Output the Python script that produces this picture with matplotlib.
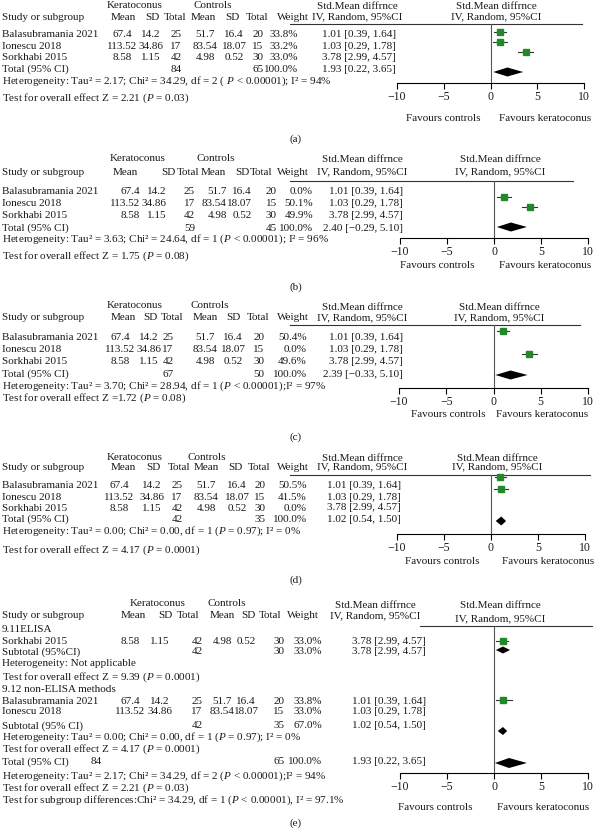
import matplotlib
matplotlib.use('Agg')
import matplotlib.pyplot as plt

plt.rcParams['font.family'] = ['Liberation Serif', 'DejaVu Serif']
plt.rcParams['mathtext.fontset'] = 'custom'
plt.rcParams['mathtext.rm'] = 'Liberation Serif'
plt.rcParams['mathtext.it'] = 'Liberation Serif:italic'

# ---- data ----
studies = ["Balasubramania 2021", "Ionescu 2018", "Sorkhabi 2015"]
kc_mean = ["67.4", "113.52", "8.58"]
kc_sd = ["14.2", "34.86", "1.15"]
kc_n = ["25", "17", "42"]
ct_mean = ["51.7", "83.54", "4.98"]
ct_sd = ["16.4", "18.07", "0.52"]
ct_n = ["20", "15", "30"]
smd_text = ["1.01 [0.39, 1.64]", "1.03 [0.29, 1.78]", "3.78 [2.99, 4.57]"]
smd = [1.01, 1.03, 3.78]
smd_lo = [0.39, 0.29, 2.99]
smd_hi = [1.64, 1.78, 4.57]

# sensitivity panels (a)-(d)
weights = [["33.8%", "33.2%", "33.0%"],
           ["0.0%", "50.1%", "49.9%"],
           ["50.4%", "0.0%", "49.6%"],
           ["50.5%", "41.5%", "0.0%"]]
total_kc = ["84", "59", "67", "42"]
total_ct = ["65", "45", "50", "35"]
total_smd = ["1.93 [0.22, 3.65]", "2.40 [\u22120.29, 5.10]",
             "2.39 [\u22120.33, 5.10]", "1.02 [0.54, 1.50]"]
het_text = [
    "Heterogeneity: Tau\u00b2 = 2.17; Chi\u00b2 = 34.29, df = 2 ( $P$ < 0.00001); I\u00b2 = 94%",
    "Heterogeneity: Tau\u00b2 = 3.63; Chi\u00b2 = 24.64, df = 1 ($P$ < 0.00001); I\u00b2 = 96%",
    "Heterogeneity: Tau\u00b2 = 3.70; Chi\u00b2 = 28.94, df = 1 ($P$ < 0.00001);I\u00b2 = 97%",
    "Heterogeneity: Tau\u00b2 = 0.00; Chi\u00b2 = 0.00, df = 1 ($P$ = 0.97); I\u00b2 = 0%"]
test_text = ["Test for overall effect Z = 2.21 ($P$ = 0.03)",
             "Test for overall effect Z = 1.75 ($P$ = 0.08)",
             "Test for overall effect Z =1.72 ($P$ = 0.08)",
             "Test for overall effect Z = 4.17 ($P$ = 0.0001)"]
shown = [[True, True, True], [False, True, True],
         [True, False, True], [True, True, False]]
# pooled diamonds as drawn
pool_est = [1.8, 1.8, 1.8, 1.1]
pool_lo = [0.3, 0.3, 0.2, 0.5]
pool_hi = [3.5, 3.5, 3.6, 1.6]

# subgroup panel (e), marks as drawn
e_pt_est = [0.95, 0.95]
e_pt_lo = [0.2, 0.2]
e_pt_hi = [1.5, 1.9]
e_dia_est = [0.95, 0.95, 1.6]
e_dia_lo = [0.2, 0.4, 0.1]
e_dia_hi = [1.7, 1.4, 3.5]

ticks = [-10, -5, 0, 5, 10]
tick_labels = ["\u221210", "\u22125", "0", "5", "10"]

# ---- drawing ----
W, H = 596, 834
FS = 8
GREEN = '#23882a'
INK = '#1a1a1a'

fig = plt.figure(figsize=(W / 100, H / 100), dpi=100)
bg = fig.add_axes([0, 0, 1, 1])
bg.set_xlim(0, W)
bg.set_ylim(H, 0)
bg.axis('off')


def txt(x, y, s, ha='center', fs=FS):
    bg.text(x, y, s, ha=ha, va='center', fontsize=fs, color=INK)


def forest_axes(x_m10, x_p10, y_top, y_axis):
    ax = fig.add_axes([x_m10 / W, 1 - y_axis / H,
                       (x_p10 - x_m10) / W, (y_axis - y_top) / H])
    ax.set_xlim(-10, 10)
    ax.set_ylim(y_axis, y_top)
    ax.patch.set_visible(False)
    for s in ('left', 'right', 'top'):
        ax.spines[s].set_visible(False)
    ax.spines['bottom'].set_linewidth(0.8)
    ax.axvline(0, color='#555555', lw=0.8)
    ax.set_xticks(ticks)
    ax.set_xticklabels(tick_labels, fontsize=8.5, color=INK)
    ax.set_yticks([])
    ax.tick_params(axis='x', length=4, width=0.8, pad=2)
    return ax


def point(ax, est, lo, hi, y):
    ax.plot([lo, hi], [y, y], color='#333333', lw=0.8, clip_on=False)
    ax.plot(est, y, 's', color=GREEN, ms=3.8, clip_on=False)


def diamond(ax, est, lo, hi, y, h):
    ax.fill([lo, est, hi, est], [y, y - h, y, y + h], color='black', lw=0)


def headers(c):
    txt(c['kc_hdr'], c['h1'], "Keratoconus")
    txt(c['ct_hdr'], c['h1'], "Controls")
    for x, s in zip(c['hdr_cols'], ["Mean", "SD", "Total", "Mean", "SD", "Total", "Weight"]):
        txt(x, c['h2'], s)
    txt(2, c['h2'], "Study or subgroup", ha='left')
    txt(c['smd_hdr'], c['h1'] + 1, "Std.Mean diffrnce")
    txt(c['smd_hdr'], c['h2'], "IV, Random, 95%CI")
    rx = (c['ax'][0] + c['ax'][1]) / 2 + 6
    txt(rx, c['h1'] + 1, "Std.Mean diffrnce")
    txt(rx, c['h2'] + c.get('rh_dy', 0), "IV, Random, 95%CI")
    bg.plot(c['line_x'], [c['line_y']] * 2, color='#333333', lw=0.8)


def footer(c):
    txt(c['fav_x'][0], c['fav_y'], "Favours controls")
    txt(c['fav_x'][1], c['fav_y'], "Favours keratoconus")
    txt(296, c['lab_y'], c['lab'])


panels = [
    dict(h1=5, h2=17, line_y=24, line_x=[290, 582], rows=[34, 46, 57, 69], het=81, test=98,
         cols=[122, 151, 176, 205, 234, 258], nha='center', w_x=298, s_x=322, s_ha='left',
         kc_hdr=135, ct_hdr=213, hdr_cols=[123, 152, 175, 203, 232, 257, 293], smd_hdr=357,
         ax=(397, 584), axis_y=83, mk=[32, 42, 52], dia_y=72, dia_h=4.5,
         fav_y=118, fav_x=(443, 545), lab_y=139, lab="(a)"),
    dict(h1=158, h2=172, line_y=181, line_x=[290, 573], rows=[191, 203, 215, 228], het=239, test=256,
         cols=[140, 166, 195, 227, 252, 277], nha='right', w_x=313, s_x=403, s_ha='right',
         kc_hdr=138, ct_hdr=216, hdr_cols=[125, 168, 188, 213, 242, 261, 293], smd_hdr=362,
         ax=(400, 588), axis_y=238, mk=[None, 197, 207], dia_y=227, dia_h=4.5,
         fav_y=265, fav_x=(437, 545), lab_y=287, lab="(b)"),
    dict(h1=306, h2=318, line_y=325, line_x=[290, 580], rows=[337, 349, 361, 374], het=386, test=398,
         cols=[120, 149, 168, 205, 233, 259], nha='center', w_x=307, s_x=403, s_ha='right',
         kc_hdr=135, ct_hdr=210, hdr_cols=[123, 150, 172, 205, 233, 258, 293], smd_hdr=362,
         ax=(399, 588), axis_y=388, mk=[331, None, 354], dia_y=375, dia_h=4.5,
         fav_y=414, fav_x=(448, 542), lab_y=437, lab="(c)"),
    dict(h1=457, h2=467, line_y=475, line_x=[290, 590], rows=[485, 497, 508, 519], het=531, test=550,
         cols=[119, 152, 177, 206, 237, 260], nha='center', w_x=307, s_x=327, s_ha='left',
         kc_hdr=135, ct_hdr=207, hdr_cols=[123, 153, 179, 206, 235, 259, 293], smd_hdr=362,
         ax=(397, 585), axis_y=534, mk=[477, 489, None], dia_y=521, dia_h=4.5,
         fav_y=562, fav_x=(442, 548), lab_y=580, lab="(d)"),
]

for i, c in enumerate(panels):
    headers(c)
    for j, name in enumerate(studies):
        y = c['rows'][j]
        txt(2, y, name, ha='left')
        for x, val in zip(c['cols'], [kc_mean[j], kc_sd[j], kc_n[j], ct_mean[j], ct_sd[j], ct_n[j]]):
            txt(x, y, val, ha=c['nha'])
        txt(c['w_x'], y, weights[i][j], ha='right')
        txt(c['s_x'], y, smd_text[j], ha=c['s_ha'])
    y = c['rows'][3]
    txt(2, y, "Total (95% CI)", ha='left')
    txt(c['cols'][2], y, total_kc[i], ha=c['nha'])
    txt(c['cols'][5], y, total_ct[i], ha=c['nha'])
    txt(c['w_x'], y, "100.0%", ha='right')
    txt(c['s_x'], y, total_smd[i], ha=c['s_ha'])
    txt(2, c['het'], het_text[i], ha='left')
    txt(2, c['test'], test_text[i], ha='left')

    ax = forest_axes(c['ax'][0], c['ax'][1], c['line_y'], c['axis_y'])
    for j in range(3):
        if shown[i][j]:
            point(ax, smd[j], smd_lo[j], smd_hi[j], c['mk'][j])
    diamond(ax, pool_est[i], pool_lo[i], pool_hi[i], c['dia_y'], c['dia_h'])
    footer(c)

# ---- panel (e) ----
e = dict(h1=604, h2=616, line_y=626, line_x=[420, 592], kc_hdr=158, ct_hdr=227,
         hdr_cols=[133, 165, 188, 222, 248, 270, 303], smd_hdr=375, ax=(400, 588), rh_dy=3,
         fav_y=807, fav_x=(435, 543), lab_y=823, lab="(e)")
headers(e)
ecols = [130, 160, 197, 222, 246, 279]
ew, es = 322, 352


def erow(y, name, vals, w, s):
    txt(2, y, name, ha='left')
    for x, v in zip(ecols, vals):
        if v:
            txt(x, y, v)
    txt(ew, y, w, ha='right')
    txt(es, y, s, ha='left')


txt(2, 630, "9.11ELISA", ha='left')
erow(642, studies[2], [kc_mean[2], kc_sd[2], kc_n[2], ct_mean[2], ct_sd[2], ct_n[2]], "33.0%", smd_text[2])
erow(652, "Subtotal (95%CI)", ["", "", "42", "", "", "30"], "33.0%", smd_text[2])
txt(2, 664, "Heterogeneity: Not applicable", ha='left')
txt(2, 677, "Test for overall effect Z = 9.39 ($P$ = 0.0001)", ha='left')
txt(2, 690, "9.12 non-ELISA methods", ha='left')
erow(701, studies[0], [kc_mean[0], kc_sd[0], kc_n[0], ct_mean[0], ct_sd[0], ct_n[0]], "33.8%", smd_text[0])
erow(711, studies[1], [kc_mean[1], kc_sd[1], kc_n[1], ct_mean[1], ct_sd[1], ct_n[1]], "33.0%", smd_text[1])
erow(726, "Subtotal (95% CI)", ["", "", "42", "", "", "35"], "67.0%", "1.02 [0.54, 1.50]")
txt(2, 737, het_text[3], ha='left')
txt(2, 749, "Test for overall effect Z = 4.17 ($P$ = 0.0001)", ha='left')
txt(2, 762, "Total (95% CI)", ha='left')
txt(96, 762, "84")
txt(ecols[5], 762, "65")
txt(ew, 762, "100.0%", ha='right')
txt(es, 762, "1.93 [0.22, 3.65]", ha='left')
txt(2, 776, "Heterogeneity: Tau\u00b2 = 2.17; Chi\u00b2 = 34.29, df = 2 ($P$ < 0.00001);I\u00b2 = 94%", ha='left')
txt(2, 788, "Test for overall effect Z = 2.21 ($P$ = 0.03)", ha='left')
txt(2, 800, "Test for subgroup differences:Chi\u00b2 = 34.29, df = 1 ($P$ < 0.00001), I\u00b2 = 97.1%", ha='left')

axe = forest_axes(400, 588, 626, 773)
for est, lo, hi, y in zip(e_pt_est, e_pt_lo, e_pt_hi, [641, 700]):
    point(axe, est, lo, hi, y)
for est, lo, hi, y, h in zip(e_dia_est, e_dia_lo, e_dia_hi, [650, 731, 763], [3.5, 4, 5]):
    diamond(axe, est, lo, hi, y, h)
footer(e)

fig.savefig('out.png', dpi=100, facecolor='white')
